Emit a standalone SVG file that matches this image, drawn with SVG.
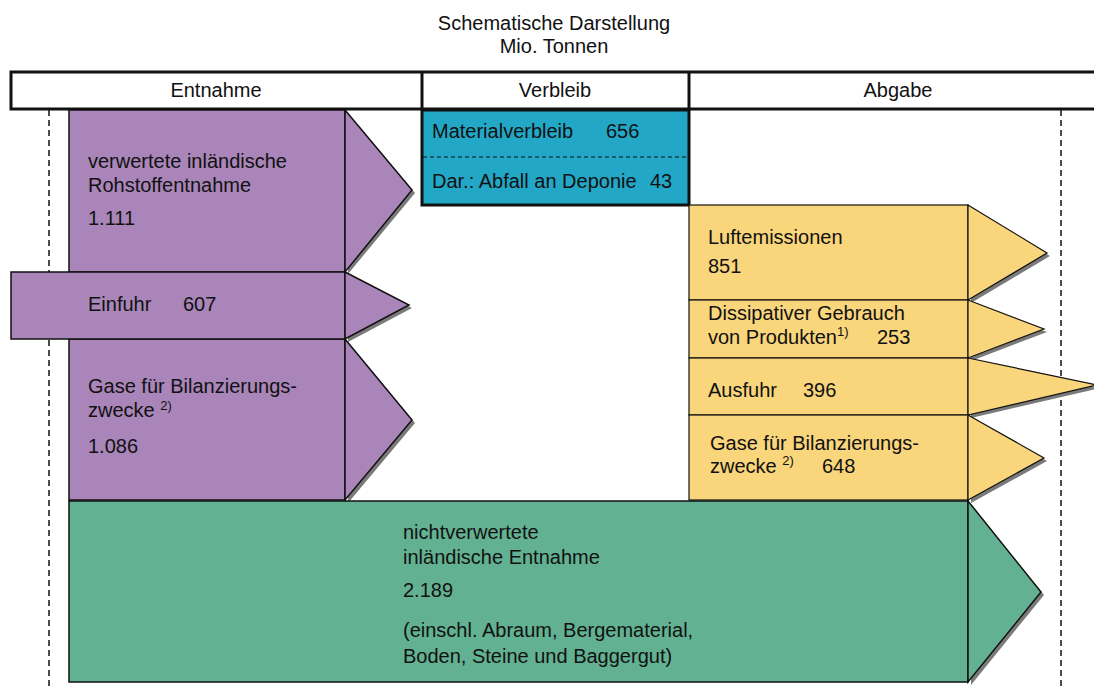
<svg xmlns="http://www.w3.org/2000/svg" width="1094" height="689" viewBox="0 0 1094 689">
<style>
text{font-family:"Liberation Sans",Arial,sans-serif;font-size:20px;fill:#111}
.c{text-anchor:middle}
.sup{font-size:13px}
.pu{fill:#a985b9;stroke:#111;stroke-width:1.5}
.gr{fill:#62b192;stroke:#111;stroke-width:1.5}
.ye{fill:#f9d57b;stroke:#111;stroke-width:1.2}
.sh{fill:#7a7a7a}
.dash{stroke:#111;stroke-width:1.5;stroke-dasharray:6 4;fill:none}
.hdr{fill:#fff;stroke:#111;stroke-width:3}
</style>
<rect width="1094" height="689" fill="#fff"/>
<g id="title">
<text class="c" x="554" y="30">Schematische Darstellung</text>
<text class="c" x="554" y="53">Mio. Tonnen</text>
</g>
<g id="guides">
<line class="dash" x1="49" y1="110" x2="49" y2="689"/>
<line class="dash" x1="1061" y1="110" x2="1061" y2="689"/>
</g>
<g id="header">
<rect class="hdr" x="11" y="72" width="1100" height="37"/>
<line x1="422" y1="72" x2="422" y2="110" stroke="#111" stroke-width="3"/>
<line x1="689" y1="72" x2="689" y2="110" stroke="#111" stroke-width="3"/>
<text class="c" x="216" y="97">Entnahme</text>
<text class="c" x="555" y="97">Verbleib</text>
<text class="c" x="898" y="97">Abgabe</text>
</g>
<g id="verwertete">
<polygon class="sh" points="348,113 415,193 348,274"/>
<rect class="pu" x="69" y="110" width="276" height="162"/>
<polygon class="pu" points="345,110 412,190 345,272"/>
<text x="88" y="168">verwertete inländische</text>
<text x="88" y="192">Rohstoffentnahme</text>
<text x="88" y="225">1.111</text>
</g>
<g id="gase-entnahme">
<polygon class="sh" points="348,342 415,423 348,503"/>
<rect class="pu" x="69" y="339" width="276" height="161"/>
<polygon class="pu" points="345,339 412,420 345,500"/>
<text x="88" y="393">Gase für Bilanzierungs-</text>
<text x="88" y="417">zwecke <tspan class="sup" dy="-7">2)</tspan></text>
<text x="88" y="453">1.086</text>
</g>
<g id="einfuhr">
<polygon class="sh" points="348,275 412,308 348,342"/>
<rect class="pu" x="11" y="272" width="334" height="67"/>
<polygon class="pu" points="345,272 409,305 345,339"/>
<text x="88" y="311">Einfuhr</text>
<text x="183" y="311">607</text>
</g>
<g id="materialverbleib">
<rect x="422" y="110" width="267" height="95" fill="#22a7c6" stroke="#111" stroke-width="3"/>
<line x1="423" y1="157" x2="688" y2="157" stroke="#111" stroke-width="1" stroke-dasharray="4 3"/>
<text x="432" y="138">Materialverbleib</text>
<text x="606" y="138">656</text>
<text x="432" y="188">Dar.: Abfall an Deponie</text>
<text x="650" y="188">43</text>
</g>
<g id="luftemissionen">
<polygon class="sh" points="971,208 1050,256 971,303"/>
<rect class="ye" x="689" y="205" width="279" height="95"/>
<polygon class="ye" points="968,205 1047,253 968,300"/>
<text x="708" y="244">Luftemissionen</text>
<text x="708" y="273">851</text>
</g>
<g id="dissipativ">
<polygon class="sh" points="971,303 1047,332 971,361"/>
<rect class="ye" x="689" y="300" width="279" height="58"/>
<polygon class="ye" points="968,300 1044,329 968,358"/>
<text x="708" y="320">Dissipativer Gebrauch</text>
<text x="708" y="344">von Produkten<tspan class="sup" dy="-8">1)</tspan></text>
<text x="877" y="344">253</text>
</g>
<g id="ausfuhr">
<polygon class="sh" points="971,361 1100,388 971,418"/>
<rect class="ye" x="689" y="358" width="279" height="57"/>
<polygon class="ye" points="968,358 1097,385 968,415"/>
<text x="708" y="397">Ausfuhr</text>
<text x="803" y="397">396</text>
</g>
<g id="gase-abgabe">
<polygon class="sh" points="971,418 1047,461 971,503"/>
<rect class="ye" x="689" y="415" width="279" height="85"/>
<polygon class="ye" points="968,415 1044,458 968,500"/>
<text x="710" y="450">Gase für Bilanzierungs-</text>
<text x="710" y="473">zwecke <tspan class="sup" dy="-8">2)</tspan></text>
<text x="822" y="473">648</text>
</g>
<g id="nichtverwertete">
<polygon class="sh" points="971,504 1044,595 971,685"/>
<rect class="gr" x="69" y="501" width="899" height="181"/>
<polygon class="gr" points="968,501 1041,592 968,682"/>
<text x="403" y="539">nichtverwertete</text>
<text x="403" y="564">inländische Entnahme</text>
<text x="403" y="597">2.189</text>
<text x="403" y="637">(einschl. Abraum, Bergematerial,</text>
<text x="403" y="663">Boden, Steine und Baggergut)</text>
</g>
<g id="connectors"></g>
</svg>
